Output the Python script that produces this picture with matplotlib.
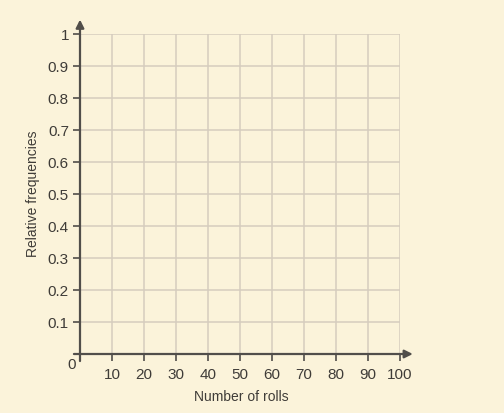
import matplotlib
matplotlib.use("Agg")
import matplotlib.pyplot as plt

x_ticks = [10, 20, 30, 40, 50, 60, 70, 80, 90, 100]
y_ticks = [0.1, 0.2, 0.3, 0.4, 0.5, 0.6, 0.7, 0.8, 0.9, 1.0]
y_tick_labels = ["0.1", "0.2", "0.3", "0.4", "0.5", "0.6", "0.7", "0.8", "0.9", "1"]
x_label = "Number of rolls"
y_label = "Relative frequencies"

bg = "#FBF3DA"
grid_c = "#D6CDBE"
axis_c = "#514E4A"
text_c = "#3F3C38"

plt.rcParams['font.family'] = ['Liberation Sans', 'DejaVu Sans']

fig = plt.figure(figsize=(5.04, 4.13), dpi=100, facecolor=bg)
ax = fig.add_axes([80/504, 59/413, 320/504, 320/413])
ax.set_facecolor(bg)
ax.set_xlim(0, 100)
ax.set_ylim(0, 1)
for s in ax.spines.values():
    s.set_visible(False)

for xv in x_ticks:
    ax.axvline(xv, color=grid_c, lw=1.1, zorder=1)
for yv in y_ticks:
    ax.axhline(yv, color=grid_c, lw=1.1, zorder=1)

ax.set_xticks(x_ticks)
ax.set_xticklabels([str(v) for v in x_ticks])
ax.set_yticks(y_ticks)
ax.set_yticklabels(y_tick_labels)
ax.tick_params(axis='both', colors=axis_c, labelcolor=text_c, labelsize=11,
               length=5, width=1.2, direction='out')
ax.tick_params(axis='x', pad=5)
ax.tick_params(axis='y', pad=3)

# axes with arrows
ax.annotate("", xy=(104, 0), xytext=(-1.9, 0), xycoords='data',
            arrowprops=dict(arrowstyle="-|>", color=axis_c, lw=1.6,
                            mutation_scale=12, shrinkA=0, shrinkB=0),
            annotation_clip=False, zorder=5)
ax.annotate("", xy=(0, 1.045), xytext=(0, -0.022), xycoords='data',
            arrowprops=dict(arrowstyle="-|>", color=axis_c, lw=1.6,
                            mutation_scale=12, shrinkA=0, shrinkB=0),
            annotation_clip=False, zorder=5)

ax.text(-1.2, -0.012, "0", ha='right', va='top', fontsize=11, color=text_c,
        clip_on=False)

fig.text(241/504, 1 - 397/413, x_label, ha='center', va='center',
         fontsize=10, color=text_c)
fig.text(33/504, 1 - 194/413, y_label, ha='center', va='center',
         rotation=90, fontsize=10, color=text_c)

fig.savefig("out.png", dpi=100, facecolor=bg)
